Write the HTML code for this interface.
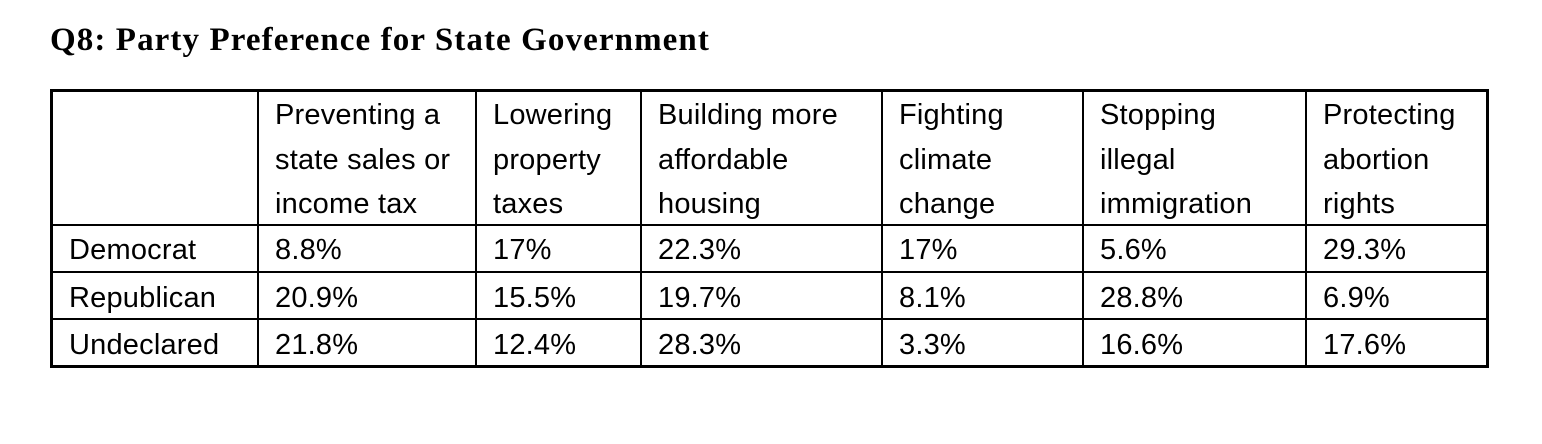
<!DOCTYPE html>
<html><head><style>
body{margin:0;width:1542px;height:444px;background:#fff;position:relative;overflow:hidden;font-family:"Liberation Sans",sans-serif;color:#000}
.t{position:absolute;left:50px;top:22px;font-family:"Liberation Serif",serif;font-weight:bold;font-size:33px;letter-spacing:1.1px}
.h{position:absolute;background:#000}
.c{position:absolute;font-size:29px;line-height:44.5px;white-space:nowrap;letter-spacing:0.2px}
</style></head><body>
<div class="t">Q8: Party Preference for State Government</div>
<div class="h" style="left:50px;top:89px;width:1439px;height:3px"></div>
<div class="h" style="left:50px;top:365px;width:1439px;height:3px"></div>
<div class="h" style="left:50px;top:89px;width:3px;height:279px"></div>
<div class="h" style="left:1486px;top:89px;width:3px;height:279px"></div>
<div class="h" style="left:52px;top:224px;width:1435px;height:2px"></div>
<div class="h" style="left:52px;top:271px;width:1435px;height:2px"></div>
<div class="h" style="left:52px;top:318px;width:1435px;height:2px"></div>
<div class="h" style="left:257px;top:90px;width:2px;height:277px"></div>
<div class="h" style="left:475px;top:90px;width:2px;height:277px"></div>
<div class="h" style="left:640px;top:90px;width:2px;height:277px"></div>
<div class="h" style="left:881px;top:90px;width:2px;height:277px"></div>
<div class="h" style="left:1082px;top:90px;width:2px;height:277px"></div>
<div class="h" style="left:1305px;top:90px;width:2px;height:277px"></div>

<div class="c" style="left:275px;top:93px">Preventing a<br>state sales or<br>income tax</div>
<div class="c" style="left:493px;top:93px">Lowering<br>property<br>taxes</div>
<div class="c" style="left:658px;top:93px">Building more<br>affordable<br>housing</div>
<div class="c" style="left:899px;top:93px">Fighting<br>climate<br>change</div>
<div class="c" style="left:1100px;top:93px">Stopping<br>illegal<br>immigration</div>
<div class="c" style="left:1323px;top:93px">Protecting<br>abortion<br>rights</div>

<div class="c" style="left:69px;top:228px">Democrat</div>
<div class="c" style="left:275px;top:228px">8.8%</div>
<div class="c" style="left:493px;top:228px">17%</div>
<div class="c" style="left:658px;top:228px">22.3%</div>
<div class="c" style="left:899px;top:228px">17%</div>
<div class="c" style="left:1100px;top:228px">5.6%</div>
<div class="c" style="left:1323px;top:228px">29.3%</div>

<div class="c" style="left:69px;top:276px">Republican</div>
<div class="c" style="left:275px;top:276px">20.9%</div>
<div class="c" style="left:493px;top:276px">15.5%</div>
<div class="c" style="left:658px;top:276px">19.7%</div>
<div class="c" style="left:899px;top:276px">8.1%</div>
<div class="c" style="left:1100px;top:276px">28.8%</div>
<div class="c" style="left:1323px;top:276px">6.9%</div>

<div class="c" style="left:69px;top:323px">Undeclared</div>
<div class="c" style="left:275px;top:323px">21.8%</div>
<div class="c" style="left:493px;top:323px">12.4%</div>
<div class="c" style="left:658px;top:323px">28.3%</div>
<div class="c" style="left:899px;top:323px">3.3%</div>
<div class="c" style="left:1100px;top:323px">16.6%</div>
<div class="c" style="left:1323px;top:323px">17.6%</div>
</body></html>
